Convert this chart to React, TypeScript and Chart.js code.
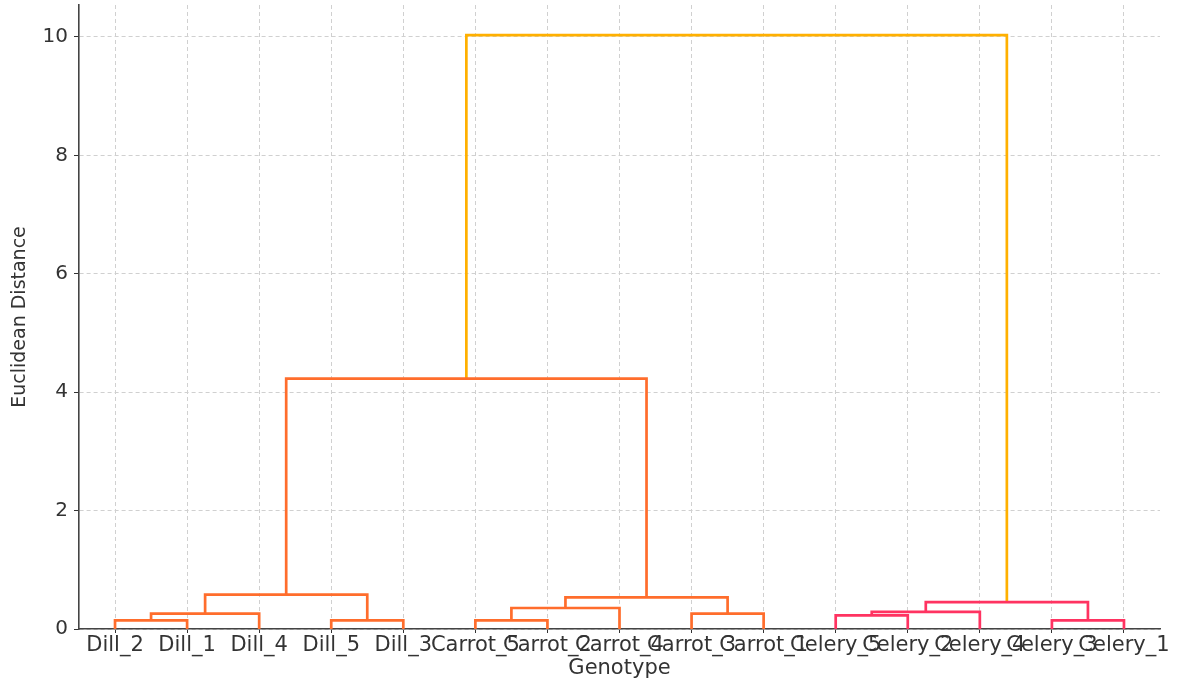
import React, { useEffect, useRef } from "react";
import { Chart, registerables } from "chart.js";

Chart.register(...registerables);

// Leaf order along the x axis (left to right)
const leafLabels = [
  "Dill_2", "Dill_1", "Dill_4", "Dill_5", "Dill_3",
  "Carrot_5", "Carrot_2", "Carrot_4", "Carrot_3", "Carrot_1",
  "Celery_5", "Celery_2", "Celery_4", "Celery_3", "Celery_1",
];

// Linkage: indices < 15 are leaves, 15 + k is the cluster formed by merge k
const mergeLeft = [0, 3, 15, 17, 5, 8, 19, 21, 18, 10, 13, 24, 26, 23];
const mergeRight = [1, 4, 2, 16, 6, 9, 7, 20, 22, 11, 14, 12, 25, 27];
const mergeHeight = [0.145, 0.145, 0.26, 0.58, 0.145, 0.26, 0.355, 0.535, 4.23, 0.23, 0.145, 0.29, 0.455, 10.03];
const mergeGroup = ["C1", "C1", "C1", "C1", "C1", "C1", "C1", "C1", "C1", "C2", "C2", "C2", "C2", "root"];

const yTickValues = [0, 2, 4, 6, 8, 10];

const groupColors: Record<string, string> = {
  C1: "#ff6d2c",
  C2: "#ff3361",
  root: "#ffb000",
};

function buildLinks() {
  const n = leafLabels.length;
  const nodeX: number[] = leafLabels.map((_, i) => 5 + 10 * i);
  const nodeY: number[] = leafLabels.map(() => 0);
  const links = mergeLeft.map((l, k) => {
    const r = mergeRight[k];
    const h = mergeHeight[k];
    nodeX[n + k] = (nodeX[l] + nodeX[r]) / 2;
    nodeY[n + k] = h;
    return {
      points: [
        { x: nodeX[l], y: nodeY[l] },
        { x: nodeX[l], y: h },
        { x: nodeX[r], y: h },
        { x: nodeX[r], y: nodeY[r] },
      ],
      color: groupColors[mergeGroup[k]],
    };
  });
  return links;
}

export default function App() {
  const canvasRef = useRef<HTMLCanvasElement | null>(null);

  useEffect(() => {
    if (!canvasRef.current) return;
    Chart.defaults.font.family = "'DejaVu Sans', sans-serif";
    Chart.defaults.color = "#333";

    const links = buildLinks();
    const chart = new Chart(canvasRef.current, {
      type: "scatter",
      data: {
        datasets: links.map((lk) => ({
          data: lk.points,
          showLine: true,
          borderColor: lk.color,
          backgroundColor: lk.color,
          borderWidth: 2.7,
          pointRadius: 0,
          pointHoverRadius: 0,
          tension: 0,
          borderJoinStyle: "miter" as const,
        })),
      },
      options: {
        animation: false,
        responsive: true,
        maintainAspectRatio: false,
        layout: { padding: { top: 5, right: 19, left: 0, bottom: 0 } },
        plugins: {
          legend: { display: false },
          tooltip: { enabled: false },
        },
        scales: {
          x: {
            type: "linear",
            min: 0,
            max: leafLabels.length * 10,
            afterBuildTicks: (scale: any) => {
              scale.ticks = leafLabels.map((_, i) => ({ value: 5 + 10 * i }));
            },
            afterFit: (scale: any) => {
              scale.height = 50;
              scale.paddingLeft = 0;
              scale.paddingRight = 0;
            },
            ticks: {
              autoSkip: false,
              maxRotation: 0,
              minRotation: 0,
              padding: 0,
              font: { size: 21 },
              color: "#333",
              callback: (v: any) => {
                const i = Math.round((Number(v) - 5) / 10);
                return leafLabels[i] ?? "";
              },
            },
            grid: {
              color: "#d0d0d0",
              lineWidth: 1,
              tickColor: "#333",
              tickLength: 4,
              tickBorderDash: [],
            },
            border: { color: "#444", width: 1.6, dash: [4, 3] },
            title: {
              display: true,
              text: "Genotype",
              font: { size: 21, lineHeight: 1.0 },
              color: "#333",
              padding: { top: 0, bottom: 0 },
            },
          },
          y: {
            type: "linear",
            min: 0,
            max: 10.54,
            afterBuildTicks: (scale: any) => {
              scale.ticks = yTickValues.map((v) => ({ value: v }));
            },
            afterFit: (scale: any) => {
              scale.width = 79;
              scale.paddingTop = 0;
              scale.paddingBottom = 0;
            },
            ticks: {
              padding: 6,
              font: { size: 20 },
              color: "#333",
            },
            grid: {
              color: "#d0d0d0",
              lineWidth: 1,
              tickColor: "#333",
              tickLength: 5,
              tickBorderDash: [],
            },
            border: { color: "#444", width: 1.6, dash: [4, 3] },
            title: {
              display: true,
              text: "Euclidean Distance",
              font: { size: 19 },
              color: "#333",
              padding: { top: 9, bottom: 0 },
            },
          },
        },
      },
    });
    return () => chart.destroy();
  }, []);

  return (
    <div style={{ position: "absolute", left: 0, top: 0, width: 1179, height: 679, background: "#fff" }}>
      <canvas ref={canvasRef} />
    </div>
  );
}
